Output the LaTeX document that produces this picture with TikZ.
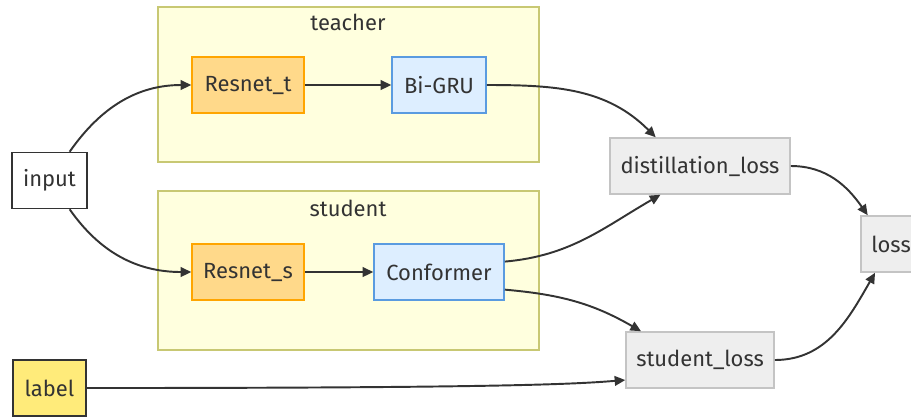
\documentclass[tikz,border=0pt]{standalone}
\usepackage{fontspec}
\setmainfont{Fira Sans}
\usetikzlibrary{arrows.meta}
\definecolor{txt}{HTML}{333333}
\definecolor{clfill}{HTML}{FFFFDE}
\definecolor{cldraw}{HTML}{C8C873}
\definecolor{orfill}{HTML}{FFD98A}
\definecolor{ordraw}{HTML}{FFA500}
\definecolor{blfill}{HTML}{DDEEFF}
\definecolor{bldraw}{HTML}{5A9BE0}
\definecolor{grfill}{HTML}{EEEEEE}
\definecolor{grdraw}{HTML}{C4C4C4}
\definecolor{ylfill}{HTML}{FFEB7A}
\begin{document}
\begin{tikzpicture}[x=0.02cm,y=-0.02cm,
    font=\fontsize{12.5}{15}\selectfont, text=txt,
    box/.style={draw, line width=0.9pt, minimum height=1.12cm, inner sep=2pt},
    cluster/.style={draw=cldraw, fill=clfill, line width=0.8pt},
    resnet/.style={box, draw=ordraw, fill=orfill, minimum width=2.24cm},
    seq/.style={box, draw=bldraw, fill=blfill},
    lossbox/.style={box, draw=grdraw, fill=grfill},
    edge/.style={draw=txt, line width=1.1pt, -{Triangle[length=6pt,width=5.5pt]}}]
		\useasboundingbox (0,0) rectangle (911,417);

		\node (teacher) [cluster, minimum width=7.62cm, minimum height=3.1cm] at (348.5,84.5) {};
		\node (student) [cluster, minimum width=7.62cm, minimum height=3.18cm] at (348.5,270.5) {};
		\node (tlab) at (348,22) {teacher};
		\node (slab) at (348,208) {student};

		\node (inp) [box, draw=txt, fill=white, minimum width=1.5cm] at (49.5,180.5) {input};
		\node (lab) [box, draw=txt, fill=ylfill, minimum width=1.46cm] at (49.5,388) {label};

		\node (rt) [resnet] at (248,85) {Resnet\_t};
		\node (gru) [seq, minimum width=1.88cm] at (439,85) {Bi-GRU};
		\node (rs) [resnet] at (248,272) {Resnet\_s};
		\node (conf) [seq, minimum width=2.6cm] at (439,272) {Conformer};

		\node (dl) [lossbox, minimum width=3.6cm] at (700,166) {distillation\_loss};
		\node (sl) [lossbox, minimum width=2.96cm] at (700,360) {student\_loss};
		\node (lo) [lossbox, minimum width=1.2cm] at (891,244) {loss};

		% edges
		\draw[edge] (inp.55) to[out=55,in=180] (rt.west);
		\draw[edge] (inp.-55) to[out=-55,in=180] (rs.west);
		\draw[edge] (rt) -- (gru);
		\draw[edge] (rs) -- (conf);
		\draw[edge] (gru.east) to[out=0,in=135] (dl.147);
		\draw[edge] (conf.9) to[out=5,in=210] (dl.216);
		\draw[edge] (conf.-15) to[out=-5,in=150] (sl.154);
		\draw[edge] (lab.east) .. controls +(420,0) and +(-50,4) .. (sl.195);
		\draw[edge] (dl.east) to[out=0,in=125] (lo.129);
		\draw[edge] (sl.east) to[out=0,in=240] (lo.241);
\end{tikzpicture}
\end{document}
